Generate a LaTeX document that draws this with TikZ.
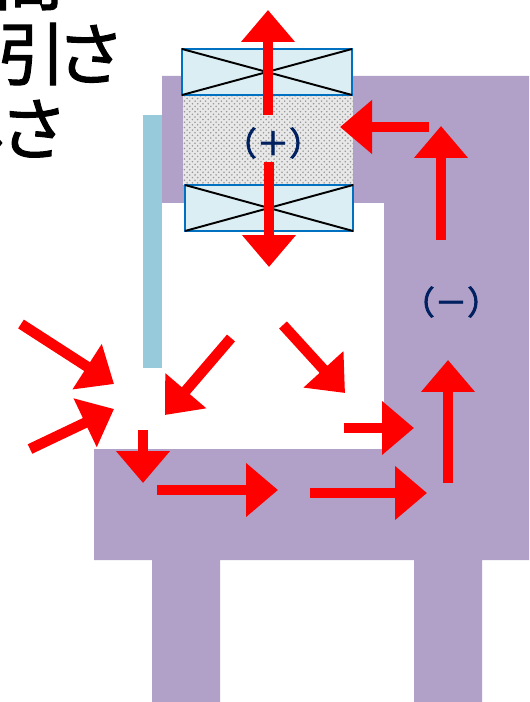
\documentclass[tikz,border=0pt]{standalone}
\usepackage{fontspec}
\newfontfamily\cjk[FakeBold=1.5,LetterSpace=-14]{Noto Sans CJK JP}
\newfontfamily\signfont[FakeBold=2.5]{Noto Sans CJK JP}
\usetikzlibrary{arrows.meta,patterns}
\definecolor{yoke}{HTML}{B1A0C7}
\definecolor{bar}{HTML}{97CBDC}
\definecolor{coil}{HTML}{DAEEF3}
\definecolor{coiledge}{HTML}{0070C0}
\definecolor{pole}{HTML}{002060}
\tikzset{
  flux/.style={draw=red,line width=0.21cm,-{Triangle[length=0.64cm,width=1.04cm,fill=red]}},
  coilbox/.style={fill=coil,draw=coiledge,line width=1.2pt},
  crossline/.style={line width=1.1pt},
  sign/.style={text=pole,inner sep=0pt,font=\signfont\fontsize{18.5}{22}\selectfont},
  jtext/.style={anchor=west,inner sep=0pt,font=\cjk\fontsize{39}{44}\selectfont}
}
\begin{document}
\begin{tikzpicture}[x=0.02cm,y=-0.02cm,line cap=butt,line join=miter]
  \useasboundingbox (0,0) rectangle (529,702);
  \clip (0,0) rectangle (529,702);
  % text
  \node[jtext] (t1) at (-6,-20) {間};
  \node[jtext] (t2) at (-3,54) {引さ};
  \node[jtext] (t3) at (-60,129) {しさ};
  % core
  \fill[yoke] (162,76) -- (529,76) -- (529,560) -- (482,560) -- (482,702) -- (414,702) -- (414,560)
    -- (220,560) -- (220,702) -- (152,702) -- (152,560) -- (94,560) -- (94,449) -- (384,449)
    -- (384,203) -- (162,203) -- cycle;
  \fill[bar] (143,115) rectangle (162,368);
  % magnet
  \fill[gray!18] (183,95) rectangle (353,185);
  \fill[pattern=crosshatch dots,pattern color=gray!80] (183,95) rectangle (353,185);
  \draw[coilbox] (182,49) rectangle (352,95);
  \draw[crossline] (182,49) -- (352,95);
  \draw[crossline] (182,95) -- (352,49);
  \draw[coilbox] (185,185) rectangle (353,231);
  \draw[crossline] (185,185) -- (353,231);
  \draw[crossline] (185,231) -- (353,185);
  \node[sign] (plus) at (273,143) {（＋）};
  \node[sign] (minus) at (451,302) {（－）};
  % flux arrows
  \draw[flux] (268,115) -- (268,10);
  \draw[flux] (269,162) -- (269,267);
  \draw[flux] (429,127) -- (340,127);
  \draw[flux] (441,240) -- (441,126);
  \draw[flux] (448,483) -- (448,360);
  \draw[flux] (21,324) -- (114,384);
  \draw[flux] (30,449) -- (114,409);
  \draw[flux] (231,338) -- (165,415);
  \draw[flux] (283,325) -- (345,393);
  \draw[flux] (344,428) -- (414,428);
  \draw[flux] (143,430) -- (143,483);
  \draw[flux] (157,490) -- (278,490);
  \draw[flux] (310,493) -- (427,493);
\end{tikzpicture}
\end{document}
